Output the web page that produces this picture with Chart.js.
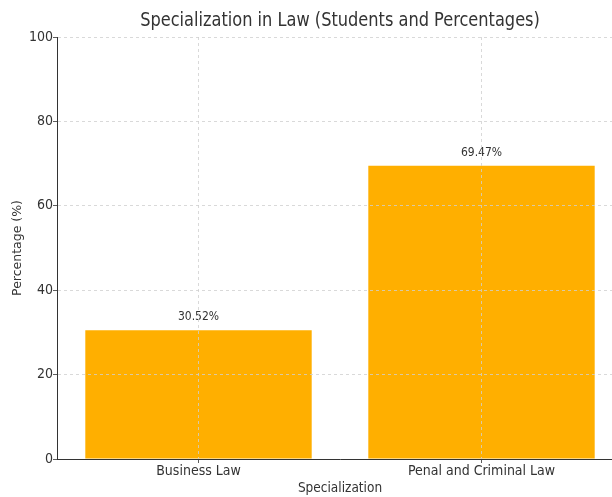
<!DOCTYPE html>
<html>
<head>
<meta charset="utf-8">
<script src="https://cdn.jsdelivr.net/npm/chart.js@4"></script>
<style>
  html, body { margin: 0; padding: 0; overflow: hidden; background: #fff; }
  #wrap { width: 624px; height: 497px; }
</style>
</head>
<body>
<div id="wrap"><canvas id="law-chart"></canvas></div>
<script>
// chart data
const categories = ['Business Law', 'Penal and Criminal Law'];
const percentages = [30.52, 69.47];
const yMin = 0;
const yMax = 100;
const yStep = 20;
const chartTitle = 'Specialization in Law (Students and Percentages)';

const FONT = "'DejaVu Sans Condensed', 'DejaVu Sans', sans-serif";
const TEXT = '#333333';

// writes the value above each bar
const barLabels = {
    id: 'barLabels',
    afterDatasetsDraw(chart) {
        const ctx = chart.ctx;
        const meta = chart.getDatasetMeta(0);
        ctx.save();
        ctx.font = '12px ' + FONT;
        ctx.fillStyle = TEXT;
        ctx.textAlign = 'center';
        ctx.textBaseline = 'middle';
        meta.data.forEach((bar, i) => {
            ctx.fillText(percentages[i].toFixed(2) + '%', bar.x, bar.y - 13);
        });
        ctx.restore();
    },
};

// title centred over the plot area, a bit narrower than the font
const plotTitle = {
    id: 'plotTitle',
    afterDraw(chart) {
        const ctx = chart.ctx;
        const area = chart.chartArea;
        const cx = (area.left + area.right) / 2;
        ctx.save();
        ctx.font = '20px ' + FONT;
        ctx.fillStyle = TEXT;
        ctx.textAlign = 'center';
        ctx.textBaseline = 'middle';
        ctx.translate(cx, 21);
        ctx.scale(0.9, 1);
        ctx.fillText(chartTitle, 0, 0);
        ctx.restore();
    },
};

document.addEventListener('DOMContentLoaded', () => {
    const ctx = document.getElementById('law-chart').getContext('2d');
    new Chart(ctx, {
        type: 'bar',
        data: {
            labels: categories,
            datasets: [
                {
                    label: 'Percentage',
                    data: percentages,
                    backgroundColor: '#FFAF00',
                    borderWidth: 0,
                    barPercentage: 0.8,
                    categoryPercentage: 1,
                },
            ],
        },
        options: {
            responsive: true,
            maintainAspectRatio: false,
            animation: false,
            layout: { padding: { left: 0, right: 1, top: 37, bottom: 0 } },
            plugins: {
                legend: { display: false },
                tooltip: { enabled: false },
                title: { display: false },
            },
            scales: {
                x: {
                    offset: true,
                    grid: {
                        offset: false,
                        color: '#d0d0d0',
                        lineWidth: 0.8,
                        z: 1,
                        tickLength: 4,
                        tickColor: TEXT,
                        tickBorderDash: [],
                    },
                    border: { color: TEXT, width: 1, dash: [3, 3], z: 2 },
                    ticks: {
                        color: TEXT,
                        padding: 0,
                        font: { family: FONT, size: 14 },
                    },
                    title: {
                        display: true,
                        text: 'Specialization',
                        color: TEXT,
                        font: { family: FONT, size: 13.5 },
                        padding: { top: 0, bottom: 0 },
                    },
                    afterFit(scale) { scale.height = 38; },
                },
                y: {
                    min: yMin,
                    max: yMax,
                    grid: {
                        color: '#d0d0d0',
                        lineWidth: 0.8,
                        z: 1,
                        tickLength: 4,
                        tickColor: TEXT,
                        tickBorderDash: [],
                    },
                    border: { color: TEXT, width: 1, dash: [3, 3], z: 2 },
                    ticks: {
                        stepSize: yStep,
                        color: TEXT,
                        padding: 0,
                        font: { family: FONT, size: 14 },
                    },
                    title: {
                        display: true,
                        text: 'Percentage (%)',
                        color: TEXT,
                        font: { family: "'DejaVu Sans', sans-serif", size: 12.5 },
                        padding: { top: 10, bottom: 0 },
                    },
                    afterFit(scale) { scale.width = 57; },
                },
            },
        },
        plugins: [barLabels, plotTitle],
    });
});
</script>
</body>
</html>
